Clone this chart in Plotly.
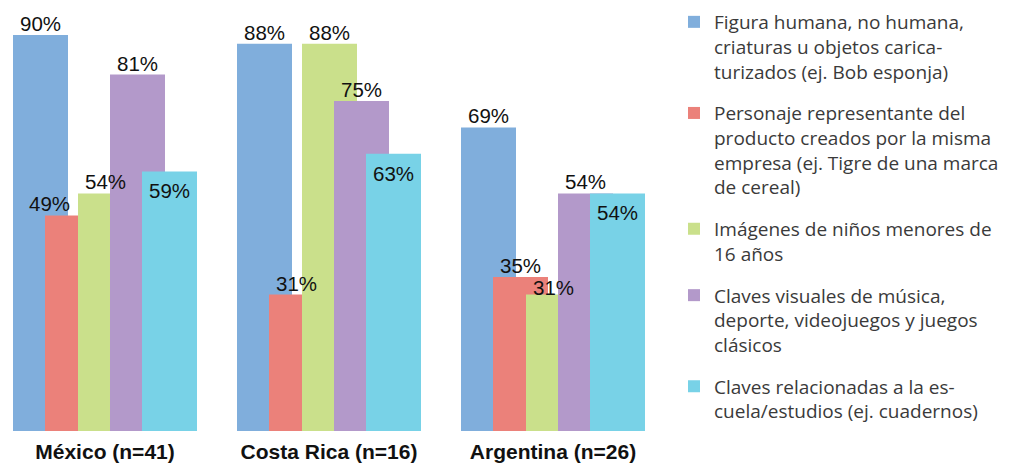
import plotly.graph_objects as go

categories = ["México (n=41)", "Costa Rica (n=16)", "Argentina (n=26)"]
series_names = [
    "Figura humana, no humana,<br>criaturas u objetos carica-<br>turizados (ej. Bob esponja)",
    "Personaje representante del<br>producto creados por la misma<br>empresa (ej. Tigre de una marca<br>de cereal)",
    "Imágenes de niños menores de<br>16 años",
    "Claves visuales de música,<br>deporte, videojuegos y juegos<br>clásicos",
    "Claves relacionadas a la es-<br>cuela/estudios (ej. cuadernos)",
]
figura_humana = [90, 88, 69]
personaje_producto = [49, 31, 35]
imagenes_ninos = [54, 88, 31]
claves_musica = [81, 75, 54]
claves_escuela = [59, 63, 54]

values = [figura_humana, personaje_producto, imagenes_ninos, claves_musica, claves_escuela]
colors = ["#80aedc", "#eb817a", "#cae08b", "#b399ca", "#78d2e7"]

W, H = 1026, 458
PX = 224.0  # pixels per category
PLOT_W = 672
PLOT_H = 423
bar_w = 55 / PX
offsets = [-92 / PX, -60 / PX, -27 / PX, 5 / PX, 37 / PX]
xs = list(range(len(categories)))

fig = go.Figure()
for i, (name, vals, col) in enumerate(zip(series_names, values, colors)):
    fig.add_trace(go.Bar(
        x=xs, y=vals, name=name, width=bar_w, offset=offsets[i],
        marker=dict(color=col, line=dict(width=0)),
        legendgroup=f"g{i}",
    ))

# value labels
label_font = dict(family="Liberation Sans, Arial, sans-serif", size=20.5, color="#111111")
special = {(1, 0): dict(xshift=-23), (2, 2): dict(yshift=-6)}
annotations = []
for i, vals in enumerate(values):
    for j, v in enumerate(vals):
        a = dict(x=j + offsets[i] + bar_w / 2, y=v, xref="x", yref="y",
                 text=f"{v}%", showarrow=False, font=label_font,
                 yanchor="bottom", yshift=-2)
        if i == 4:
            a.update(yanchor="top", yshift=-6)
        if (i, j) in special:
            a.update(special[(i, j)])
        annotations.append(a)

fig.update_layout(
    width=W, height=H,
    margin=dict(l=0, r=W - PLOT_W, t=0, b=H - PLOT_H, autoexpand=False),
    barmode="overlay",
    plot_bgcolor="white", paper_bgcolor="white",
    annotations=annotations,
    showlegend=True,
    legend=dict(
        x=666 / PLOT_W, xanchor="left", y=1 + 5 / PLOT_H, yanchor="top",
        font=dict(family="Open Sans, sans-serif", size=19, color="#3a3a3a"),
        valign="top", tracegroupgap=14, traceorder="grouped",
        bgcolor="rgba(0,0,0,0)", maxheight=700,
    ),
    xaxis=dict(
        range=[-97 / PX, 3 - 97 / PX],
        tickvals=xs, ticktext=[f"<b>{c}</b>" for c in categories],
        tickfont=dict(family="Liberation Sans, Arial, sans-serif", size=21, color="#111111"),
        showgrid=False, zeroline=False, showline=False, ticks="",
        ticklabelstandoff=6,
    ),
    yaxis=dict(
        range=[0, PLOT_H / 4.4], visible=False, showgrid=False, zeroline=False,
    ),
)

fig.write_html("out.html")
